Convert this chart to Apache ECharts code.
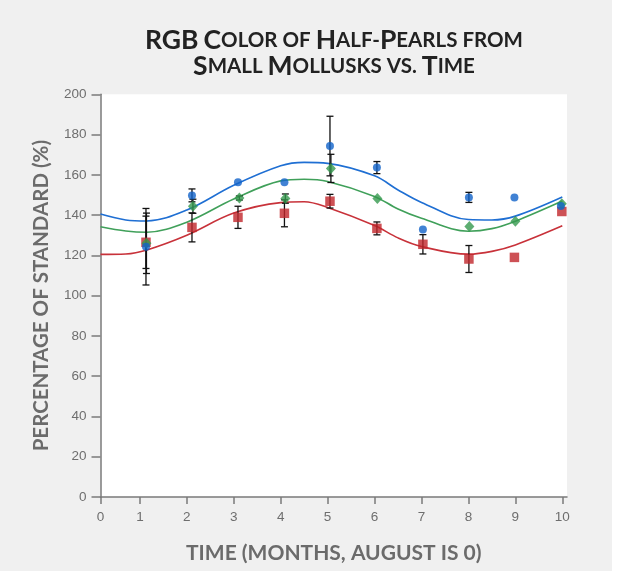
<!DOCTYPE html>
<html><head><meta charset="utf-8">
<script src="https://cdn.jsdelivr.net/npm/echarts@6/dist/echarts.min.js"></script>
<style>html,body{margin:0;padding:0;background:#fff;}#c{width:612px;height:571px;background:#f0f0f0;}</style>
</head><body><div id="c"></div>
<script>
// ---- data ----
const titleLines = ['RGB Color of Half-Pearls from', 'Small Mollusks vs. Time'];
const xAxisTitle = 'TIME (MONTHS, AUGUST IS 0)';
const yAxisTitle = 'PERCENTAGE OF STANDARD (%)';
const xTickValues = [0.161, 1, 2, 3, 4, 5, 6, 7, 8, 9, 10];
const xTickLabels = ['0', '1', '2', '3', '4', '5', '6', '7', '8', '9', '10'];

const blueX = [1.13, 2.11, 3.09, 4.08, 5.05, 6.05, 7.03, 8.01, 8.98, 9.97];
const blueY = [124.3, 149.8, 156.3, 156.3, 174.3, 163.6, 132.9, 148.8, 148.8, 144.5];
const blueErr = [19, 3.2, 0, 0, 14.8, 3, 0, 2.5, 0, 0];

const greenX = [1.14, 2.13, 3.12, 4.1, 5.07, 6.06, 8.02, 9.0, 9.99];
const greenY = [126.0, 144.4, 148.5, 148.2, 163.2, 148.3, 134.3, 137.0, 145.6];
const greenErr = [15, 3.5, 1, 2.3, 7, 0, 0, 0, 0];

const redX = [1.13, 2.11, 3.09, 4.08, 5.05, 6.05, 7.03, 8.01, 8.98, 9.99];
const redY = [126.5, 133.9, 138.9, 140.9, 146.9, 133.4, 125.5, 118.2, 119.0, 141.8];
const redErr = [13, 7.2, 5.5, 6.7, 3.4, 3.2, 4.8, 6.7, 0, 0];

const curveX = [0.161, 0.7, 1.15, 2, 3, 4, 4.5, 5, 6, 6.5, 7, 8, 8.5, 9, 10];
const blueFit = [140.5, 137.6, 137.1, 142.5, 154.8, 164.5, 166.2, 165.7, 159.5, 152.5, 146.3, 137.8, 137.6, 139.5, 149];
const greenFit = [134.2, 132.1, 131.5, 136.5, 148, 157, 157.8, 156.7, 149.3, 143, 138.4, 132, 133.3, 137, 147];
const redFit = [120.5, 120.7, 122.7, 130, 141, 146.2, 146.6, 143.8, 134.8, 128.7, 124.4, 120.6, 122, 125.2, 134.7];

// ---- helpers ----
function smallCaps(str) {
  let out = '';
  let cur = null, buf = '';
  for (const ch of str) {
    const isBig = ch !== ch.toLowerCase();
    const st = isBig ? 'b' : 's';
    if (st !== cur) { if (buf) out += '{' + cur + '|' + buf + '}'; buf = ''; cur = st; }
    buf += ch.toUpperCase();
  }
  if (buf) out += '{' + cur + '|' + buf + '}';
  return out;
}
const pairs = (xs, ys) => xs.map((x, i) => [x, ys[i]]);
const errData = (xs, ys, es) => xs.map((x, i) => [x, ys[i] - es[i], ys[i] + es[i]]).filter((d, i) => es[i] > 0);

const FONT = 'Lato, "Open Sans", sans-serif';
const chart = echarts.init(document.getElementById('c'));

function errSeries(name, data) {
  return {
    type: 'custom', name, z: 3, data,
    renderItem(params, api) {
      const x = api.value(0);
      const lo = api.coord([x, api.value(1)]);
      const hi = api.coord([x, api.value(2)]);
      const w = 3.5;
      const st = { stroke: '#111', lineWidth: 1.3 };
      return { type: 'group', children: [
        { type: 'line', shape: { x1: lo[0], y1: lo[1], x2: hi[0], y2: hi[1] }, style: st },
        { type: 'line', shape: { x1: lo[0] - w, y1: lo[1], x2: lo[0] + w, y2: lo[1] }, style: st },
        { type: 'line', shape: { x1: hi[0] - w, y1: hi[1], x2: hi[0] + w, y2: hi[1] }, style: st }
      ]};
    }
  };
}

const option = {
  backgroundColor: '#f0f0f0',
  animation: false,
  graphic: [{
    type: 'text', x: 334, y: 28, z: 10,
    style: {
      text: titleLines.map(smallCaps).join('\n'),
      align: 'center', textAlign: 'center', verticalAlign: 'top',
      rich: {
        b: { fontSize: 26.5, fontWeight: 'bold', fontFamily: FONT, fill: '#222', color: '#222', lineHeight: 25.5 },
        s: { fontSize: 20.5, fontWeight: 'bold', fontFamily: FONT, fill: '#222', color: '#222', lineHeight: 25.5 }
      }
    }
  }],
  grid: { left: 100.5, right: 45, top: 94.3, bottom: 74, show: true, backgroundColor: '#fff', borderWidth: 0 },
  xAxis: {
    type: 'value', min: 0.161, max: 10.1,
    name: xAxisTitle, nameLocation: 'middle', nameGap: 46,
    nameTextStyle: { fontFamily: FONT, fontSize: 21, fontWeight: 'bold', color: '#6b6b6b' },
    axisLine: { lineStyle: { color: '#7a7a7a', width: 1.5 } },
    axisTick: { show: true, length: 7, customValues: xTickValues, lineStyle: { color: '#7a7a7a', width: 1.5 } },
    axisLabel: { customValues: xTickValues, margin: 13, fontSize: 13.5, color: '#6e6e6e', fontFamily: 'Liberation Sans, Arial, sans-serif',
      formatter: v => xTickLabels[xTickValues.findIndex(t => Math.abs(t - v) < 1e-6)] ?? '' },
    splitLine: { show: false }
  },
  yAxis: {
    type: 'value', min: 0, max: 200, interval: 20,
    name: yAxisTitle, nameLocation: 'middle', nameGap: 49, nameRotate: 90,
    nameTextStyle: { fontFamily: FONT, fontSize: 20.5, fontWeight: 'bold', color: '#6b6b6b' },
    axisLine: { show: true, lineStyle: { color: '#7a7a7a', width: 1.5 } },
    axisTick: { show: true, length: 9, lineStyle: { color: '#7a7a7a', width: 1.5 } },
    axisLabel: { margin: 14, fontSize: 13.5, color: '#6e6e6e', fontFamily: 'Liberation Sans, Arial, sans-serif' },
    splitLine: { show: false }
  },
  series: [
    { type: 'line', data: pairs(curveX, redFit), smooth: 0.35, showSymbol: false, z: 2, lineStyle: { color: '#c8323a', width: 1.6 } },
    { type: 'line', data: pairs(curveX, greenFit), smooth: 0.35, showSymbol: false, z: 2, lineStyle: { color: '#40a05a', width: 1.6 } },
    { type: 'line', data: pairs(curveX, blueFit), smooth: 0.35, showSymbol: false, z: 2, lineStyle: { color: '#1f6fd3', width: 1.6 } },
    errSeries('blueErr', errData(blueX, blueY, blueErr)),
    errSeries('greenErr', errData(greenX, greenY, greenErr)),
    errSeries('redErr', errData(redX, redY, redErr)),
    { type: 'scatter', data: pairs(redX, redY), symbol: 'rect', symbolSize: 9.5, z: 4, itemStyle: { color: '#c0262b' } },
    { type: 'scatter', data: pairs(greenX, greenY), symbol: 'diamond', symbolSize: [10, 11], z: 5, itemStyle: { color: '#35984e' } },
    { type: 'scatter', data: pairs(blueX, blueY), symbol: 'circle', symbolSize: 8, z: 6, itemStyle: { color: '#1263c9' } }
  ]
};
chart.setOption(option);
</script></body></html>
